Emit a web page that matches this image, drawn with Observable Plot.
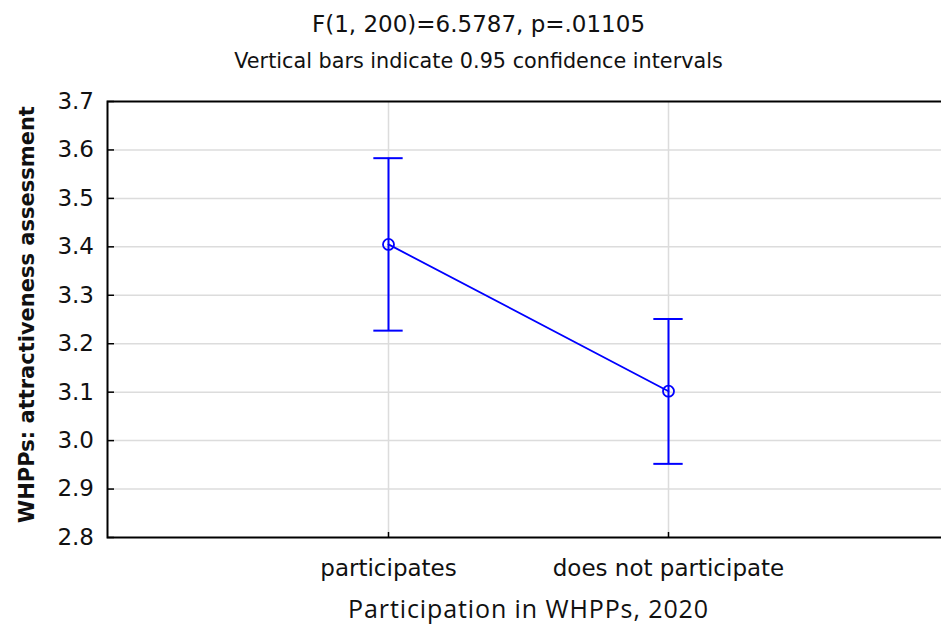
<!DOCTYPE html>
<html>
<head>
<meta charset="utf-8">
<script src="https://cdn.jsdelivr.net/npm/d3@7"></script>
<script src="https://cdn.jsdelivr.net/npm/@observablehq/plot@0.6"></script>
<style>
  html, body { margin: 0; padding: 0; background: white; overflow: hidden; }
  #chart { width: 941px; height: 630px; }
</style>
</head>
<body>
<div id="chart"></div>
<script>
const categories = ["participates", "does not participate"];
const means = [3.405, 3.102];
const ciLow = [3.227, 2.952];
const ciHigh = [3.583, 3.251];
const yTicks = [2.8, 2.9, 3.0, 3.1, 3.2, 3.3, 3.4, 3.5, 3.6, 3.7];
const titleText = "F(1, 200)=6.5787, p=.01105";
const subtitleText = "Vertical bars indicate 0.95 confidence intervals";
const xLabel = "Participation in WHPPs, 2020";
const yLabel = "WHPPs: attractiveness assessment";

const rows = categories.map((c, i) => ({cat: c, mean: means[i], lo: ciLow[i], hi: ciHigh[i]}));
const blue = "#0000ff";
const grid = "#dcdcdc";
const frameH = 630 - 101 - 93;
const frameW = 941 + 8 - 107;
const bw = frameW / 3;
const capInset = (bw - 30) / 2;

const chart = Plot.plot({
  width: 941,
  height: 630,
  marginLeft: 107,
  marginRight: -8,
  marginTop: 101,
  marginBottom: 93,
  style: "font: 23px 'DejaVu Sans'; background: white; color: #111; overflow: hidden;",
  x: {type: "band", domain: categories, paddingInner: 0, paddingOuter: 0.5},
  y: {domain: [2.8, 3.7]},
  marks: [
    Plot.gridY(yTicks.filter(d => d > 2.85 && d < 3.65), {stroke: grid, strokeOpacity: 1, strokeWidth: 1.5}),
    Plot.gridX(categories, {stroke: grid, strokeOpacity: 1, strokeWidth: 1.5}),
    Plot.axisY({ticks: yTicks, tickFormat: d => d.toFixed(1), tickSize: 0, tickPadding: 13.5, label: null, fontSize: 23, fontFamily: "DejaVu Sans"}),
    Plot.axisX({tickSize: 0, tickPadding: 22, label: null, fontSize: 23, fontFamily: "DejaVu Sans"}),
    Plot.tickY(yTicks, {y: d => d, insetRight: frameW - 7, stroke: "black", strokeWidth: 1.5}),
    Plot.tickX(categories, {x: d => d, insetTop: frameH - 5, stroke: "black", strokeWidth: 1.5}),
    Plot.line(rows, {x: "cat", y: "mean", stroke: blue, strokeWidth: 1.8}),
    Plot.ruleX(rows, {x: "cat", y1: "lo", y2: "hi", stroke: blue, strokeWidth: 2}),
    Plot.tickY(rows, {x: "cat", y: "hi", insetLeft: capInset, insetRight: capInset, stroke: blue, strokeWidth: 2}),
    Plot.tickY(rows, {x: "cat", y: "lo", insetLeft: capInset, insetRight: capInset, stroke: blue, strokeWidth: 2}),
    Plot.dot(rows, {x: "cat", y: "mean", r: 5.5, stroke: blue, strokeWidth: 1.8, fill: "none"}),
    Plot.frame({stroke: "black", strokeWidth: 2}),
    Plot.text([titleText], {frameAnchor: "top", lineAnchor: "middle", textAnchor: "middle", dx: -50, dy: -76.4, fontSize: 23, fontFamily: "DejaVu Sans", fill: "#111"}),
    Plot.text([subtitleText], {frameAnchor: "top", lineAnchor: "middle", textAnchor: "middle", dx: -50, dy: -40.4, fontSize: 20.75, fontFamily: "DejaVu Sans", fill: "#111"}),
    Plot.text([xLabel], {frameAnchor: "bottom", lineAnchor: "middle", textAnchor: "middle", dy: 72.5, fontSize: 25, fontFamily: "Open Sans", fill: "#111"}),
    Plot.text([yLabel], {frameAnchor: "left", lineAnchor: "middle", textAnchor: "middle", rotate: -90, dx: -80.5, dy: -5, fontSize: 21, fontWeight: "bold", fontFamily: "DejaVu Sans", fill: "#111"})
  ]
});
chart.querySelectorAll("text").forEach(t => {
  if (t.textContent === xLabel) t.setAttribute("letter-spacing", "0.9");
});
document.getElementById("chart").appendChild(chart);
</script>
</body>
</html>
